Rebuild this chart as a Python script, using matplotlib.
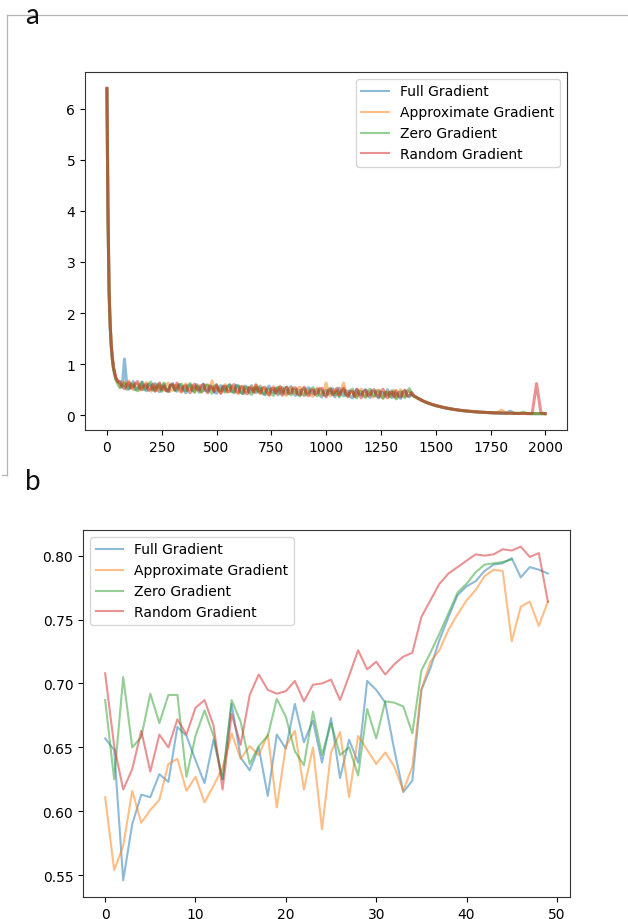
import numpy as np
import matplotlib
matplotlib.use("Agg")
import matplotlib.pyplot as plt
from matplotlib.lines import Line2D

# ---------------- Panel a: training loss vs iteration ----------------
iter_early = [0, 5, 10, 15, 20, 25, 30, 40, 50]
iter_band = list(range(60, 1400, 10))
iter_tail = list(range(1400, 2000, 20)) + [1999]
iters = iter_early + iter_band + iter_tail

loss_full = [
    6.38, 3.90, 2.40, 1.75, 1.35, 1.10, 0.93, 0.74, 0.66,
    0.66, 0.55, 1.10, 0.62, 0.51, 0.60, 0.66, 0.50, 0.54, 0.52, 0.65, 0.57, 0.48, 0.61, 0.58, 0.49, 0.62, 0.53, 0.46, 0.57,
    0.60, 0.48, 0.50, 0.59, 0.62, 0.51, 0.47, 0.60, 0.56, 0.49, 0.44, 0.55, 0.59, 0.48, 0.54, 0.60, 0.45, 0.52, 0.61, 0.49,
    0.47, 0.58, 0.56, 0.46, 0.43, 0.54, 0.58, 0.47, 0.50, 0.56, 0.59, 0.48, 0.44, 0.59, 0.55, 0.46, 0.42, 0.57, 0.53, 0.45,
    0.58, 0.50, 0.44, 0.55, 0.52, 0.43, 0.40, 0.51, 0.57, 0.48, 0.45, 0.53, 0.40, 0.49, 0.54, 0.44, 0.42, 0.52, 0.56, 0.43,
    0.39, 0.50, 0.48, 0.41, 0.39, 0.51, 0.54, 0.44, 0.42, 0.49, 0.51, 0.40, 0.36, 0.47, 0.49, 0.41, 0.45, 0.52, 0.36, 0.46,
    0.53, 0.42, 0.38, 0.48, 0.47, 0.37, 0.34, 0.45, 0.50, 0.41, 0.40, 0.47, 0.50, 0.39, 0.35, 0.46, 0.47, 0.38, 0.34, 0.45,
    0.44, 0.37, 0.50, 0.42, 0.35, 0.46, 0.43, 0.37, 0.33, 0.44, 0.48, 0.38, 0.36, 0.45,
    0.38, 0.33, 0.285, 0.248, 0.217, 0.19, 0.168, 0.148, 0.131, 0.116,
    0.103, 0.092, 0.083, 0.075, 0.068, 0.062, 0.057, 0.052, 0.048, 0.045,
    0.042, 0.040, 0.080, 0.036, 0.035, 0.034, 0.033, 0.033, 0.032, 0.032,
    0.031]
loss_approx = [
    6.40, 3.95, 2.45, 1.78, 1.37, 1.12, 0.95, 0.72, 0.68,
    0.56, 0.63, 0.65, 0.54, 0.67, 0.57, 0.50, 0.62, 0.61, 0.49, 0.55, 0.60, 0.64, 0.52, 0.47, 0.56, 0.58, 0.48, 0.62, 0.52,
    0.49, 0.60, 0.63, 0.47, 0.50, 0.58, 0.59, 0.48, 0.45, 0.57, 0.61, 0.49, 0.52, 0.59, 0.46, 0.55, 0.58, 0.45, 0.50, 0.57,
    0.60, 0.50, 0.67, 0.49, 0.56, 0.47, 0.44, 0.55, 0.60, 0.47, 0.46, 0.56, 0.53, 0.44, 0.42, 0.54, 0.57, 0.46, 0.47, 0.55,
    0.56, 0.45, 0.60, 0.48, 0.42, 0.53, 0.51, 0.43, 0.39, 0.50, 0.56, 0.44, 0.46, 0.55, 0.52, 0.41, 0.39, 0.50, 0.54, 0.45,
    0.43, 0.52, 0.55, 0.42, 0.40, 0.49, 0.48, 0.39, 0.37, 0.48, 0.53, 0.43, 0.40, 0.47, 0.63, 0.44, 0.38, 0.47, 0.50, 0.40,
    0.41, 0.50, 0.63, 0.43, 0.36, 0.45, 0.47, 0.38, 0.37, 0.48, 0.51, 0.40, 0.35, 0.46, 0.45, 0.36, 0.37, 0.47, 0.49, 0.40,
    0.33, 0.44, 0.46, 0.37, 0.42, 0.49, 0.34, 0.43, 0.50, 0.39, 0.37, 0.46, 0.47, 0.40,
    0.38, 0.332, 0.287, 0.25, 0.218, 0.191, 0.169, 0.149, 0.132, 0.117,
    0.104, 0.093, 0.084, 0.076, 0.069, 0.063, 0.058, 0.053, 0.049, 0.046,
    0.100, 0.041, 0.039, 0.037, 0.036, 0.035, 0.034, 0.033, 0.033, 0.032,
    0.032]
loss_zero = [
    6.39, 3.85, 2.35, 1.72, 1.32, 1.08, 0.90, 0.70, 0.62,
    0.54, 0.60, 0.63, 0.51, 0.53, 0.61, 0.60, 0.52, 0.48, 0.59, 0.64, 0.50, 0.53, 0.60, 0.65, 0.51, 0.49, 0.60, 0.56, 0.47,
    0.63, 0.52, 0.46, 0.58, 0.59, 0.48, 0.52, 0.59, 0.61, 0.50, 0.48, 0.58, 0.62, 0.49, 0.45, 0.57, 0.55, 0.46, 0.48, 0.59,
    0.58, 0.47, 0.43, 0.56, 0.60, 0.48, 0.49, 0.57, 0.45, 0.55, 0.60, 0.46, 0.47, 0.56, 0.58, 0.45, 0.43, 0.54, 0.55, 0.44,
    0.41, 0.53, 0.54, 0.46, 0.57, 0.44, 0.42, 0.52, 0.50, 0.42, 0.39, 0.51, 0.55, 0.42, 0.44, 0.53, 0.55, 0.43, 0.40, 0.51,
    0.50, 0.41, 0.38, 0.50, 0.52, 0.40, 0.44, 0.51, 0.54, 0.41, 0.38, 0.50, 0.49, 0.40, 0.39, 0.49, 0.53, 0.40, 0.41, 0.48,
    0.36, 0.47, 0.50, 0.39, 0.39, 0.48, 0.51, 0.38, 0.34, 0.47, 0.46, 0.38, 0.36, 0.46, 0.51, 0.40, 0.38, 0.47, 0.48, 0.37,
    0.34, 0.45, 0.44, 0.36, 0.48, 0.39, 0.32, 0.44, 0.46, 0.37, 0.35, 0.47, 0.52, 0.40,
    0.375, 0.328, 0.282, 0.245, 0.214, 0.188, 0.166, 0.147, 0.130, 0.115,
    0.102, 0.091, 0.082, 0.074, 0.067, 0.061, 0.056, 0.051, 0.047, 0.044,
    0.041, 0.039, 0.037, 0.035, 0.034, 0.060, 0.032, 0.032, 0.031, 0.031,
    0.030]
loss_random = [
    6.40, 3.92, 2.42, 1.76, 1.36, 1.11, 0.94, 0.75, 0.65,
    0.65, 0.57, 0.52, 0.60, 0.64, 0.53, 0.56, 0.62, 0.66, 0.55, 0.50, 0.58, 0.60, 0.49, 0.51, 0.61, 0.47, 0.56, 0.63, 0.50,
    0.57, 0.49, 0.47, 0.59, 0.60, 0.50, 0.63, 0.53, 0.47, 0.56, 0.58, 0.48, 0.44, 0.55, 0.61, 0.51, 0.49, 0.58, 0.60, 0.50,
    0.44, 0.56, 0.54, 0.46, 0.59, 0.50, 0.43, 0.55, 0.57, 0.46, 0.48, 0.57, 0.60, 0.47, 0.45, 0.56, 0.55, 0.44, 0.42, 0.54,
    0.52, 0.45, 0.59, 0.49, 0.44, 0.53, 0.55, 0.45, 0.40, 0.52, 0.53, 0.43, 0.50, 0.56, 0.39, 0.49, 0.55, 0.43, 0.44, 0.53,
    0.54, 0.42, 0.40, 0.50, 0.55, 0.44, 0.38, 0.49, 0.50, 0.41, 0.44, 0.52, 0.53, 0.42, 0.36, 0.48, 0.51, 0.41, 0.46, 0.53,
    0.39, 0.47, 0.53, 0.42, 0.37, 0.47, 0.46, 0.37, 0.51, 0.42, 0.34, 0.46, 0.49, 0.39, 0.40, 0.49, 0.50, 0.41, 0.36, 0.47,
    0.51, 0.40, 0.34, 0.45, 0.45, 0.36, 0.48, 0.38, 0.36, 0.46, 0.49, 0.38, 0.39, 0.44,
    0.378, 0.33, 0.284, 0.247, 0.216, 0.190, 0.168, 0.148, 0.131, 0.116,
    0.103, 0.092, 0.083, 0.075, 0.068, 0.062, 0.057, 0.052, 0.048, 0.045,
    0.042, 0.040, 0.038, 0.036, 0.035, 0.034, 0.033, 0.033, 0.620, 0.050,
    0.031]

# ---------------- Panel b: accuracy vs epoch ----------------
epochs = np.arange(50)
acc_full = [0.657, 0.648, 0.546, 0.590, 0.613, 0.611, 0.629, 0.623, 0.666, 0.659,
            0.640, 0.622, 0.656, 0.625, 0.684, 0.642, 0.632, 0.650, 0.612, 0.660,
            0.649, 0.684, 0.654, 0.671, 0.638, 0.673, 0.626, 0.656, 0.638, 0.702,
            0.695, 0.685, 0.648, 0.615, 0.624, 0.695, 0.712, 0.734, 0.752, 0.769,
            0.776, 0.780, 0.788, 0.793, 0.794, 0.798, 0.783, 0.791, 0.789, 0.786]
acc_approx = [0.611, 0.554, 0.573, 0.616, 0.591, 0.601, 0.609, 0.637, 0.641, 0.616,
              0.627, 0.607, 0.620, 0.634, 0.661, 0.641, 0.651, 0.644, 0.660, 0.603,
              0.651, 0.663, 0.617, 0.650, 0.586, 0.646, 0.662, 0.611, 0.659, 0.648,
              0.637, 0.646, 0.635, 0.616, 0.635, 0.695, 0.717, 0.726, 0.742, 0.754,
              0.765, 0.773, 0.784, 0.789, 0.788, 0.733, 0.760, 0.764, 0.745, 0.764]
acc_zero = [0.687, 0.625, 0.705, 0.650, 0.658, 0.692, 0.669, 0.691, 0.691, 0.627,
            0.659, 0.679, 0.659, 0.625, 0.687, 0.670, 0.637, 0.651, 0.659, 0.688,
            0.674, 0.647, 0.636, 0.678, 0.644, 0.669, 0.644, 0.650, 0.628, 0.680,
            0.657, 0.686, 0.685, 0.682, 0.661, 0.710, 0.724, 0.739, 0.755, 0.771,
            0.778, 0.787, 0.793, 0.794, 0.795, 0.797]
acc_random = [0.708, 0.651, 0.617, 0.633, 0.663, 0.631, 0.660, 0.650, 0.672, 0.660,
              0.681, 0.687, 0.667, 0.617, 0.676, 0.652, 0.691, 0.707, 0.695, 0.692,
              0.694, 0.702, 0.686, 0.699, 0.700, 0.703, 0.687, 0.706, 0.726, 0.711,
              0.717, 0.707, 0.715, 0.721, 0.724, 0.752, 0.765, 0.778, 0.786, 0.791,
              0.796, 0.801, 0.800, 0.801, 0.805, 0.804, 0.807, 0.799, 0.802, 0.764]

labels = ["Full Gradient", "Approximate Gradient", "Zero Gradient", "Random Gradient"]
colors = ["#1f77b4", "#ff7f0e", "#2ca02c", "#d62728"]

fig = plt.figure(figsize=(6.28, 9.2), dpi=100)
W, H = 628, 920

ax1 = fig.add_axes([85 / W, 1 - 431 / H, (567 - 85) / W, (431 - 73) / H])
for ys, lab, c in zip([loss_full, loss_approx, loss_zero, loss_random], labels, colors):
    n = min(len(iters), len(ys))
    ax1.plot(iters[:n], ys[:n], color=c, alpha=0.5, lw=2.2, label=lab)
ax1.set_xticks([0, 250, 500, 750, 1000, 1250, 1500, 1750, 2000])
ax1.set_yticks([0, 1, 2, 3, 4, 5, 6])
leg1 = ax1.legend(loc="upper right")
for ln in leg1.get_lines():
    ln.set_linewidth(1.5)

ax2 = fig.add_axes([83 / W, 1 - 898 / H, (570 - 83) / W, (898 - 531) / H])
ax2.plot(epochs, acc_full, color=colors[0], alpha=0.5, lw=1.5, label=labels[0])
ax2.plot(epochs, acc_approx, color=colors[1], alpha=0.5, lw=1.5, label=labels[1])
ax2.plot(epochs[:len(acc_zero)], acc_zero, color=colors[2], alpha=0.5, lw=1.5, label=labels[2])
ax2.plot(epochs, acc_random, color=colors[3], alpha=0.5, lw=1.5, label=labels[3])
ax2.set_yticks([0.55, 0.60, 0.65, 0.70, 0.75, 0.80])
ax2.set_xticks([0, 10, 20, 30, 40, 50])
ax2.legend(loc="upper left")

for ax in (ax1, ax2):
    for s in ax.spines.values():
        s.set_color("#333333")

# screenshot-style frame lines around panel a
frame_col = "#b5b5b5"
fig.add_artist(Line2D([7 / W, 1.0], [1 - 16 / H, 1 - 16 / H], color=frame_col, lw=0.9))
fig.add_artist(Line2D([7 / W, 7 / W], [1 - 16 / H, 1 - 476 / H], color=frame_col, lw=0.9))
fig.add_artist(Line2D([2 / W, 7 / W], [1 - 476 / H, 1 - 476 / H], color=frame_col, lw=0.9))

fig.text(25 / W, 1 - 24 / H, "a", fontsize=20, family=["Lato", "DejaVu Sans"],
         ha="left", va="baseline", color="#111111")
fig.text(25 / W, 1 - 490 / H, "b", fontsize=20, family=["Lato", "DejaVu Sans"],
         ha="left", va="baseline", color="#111111")

fig.savefig("out.png", dpi=100, facecolor="white")
